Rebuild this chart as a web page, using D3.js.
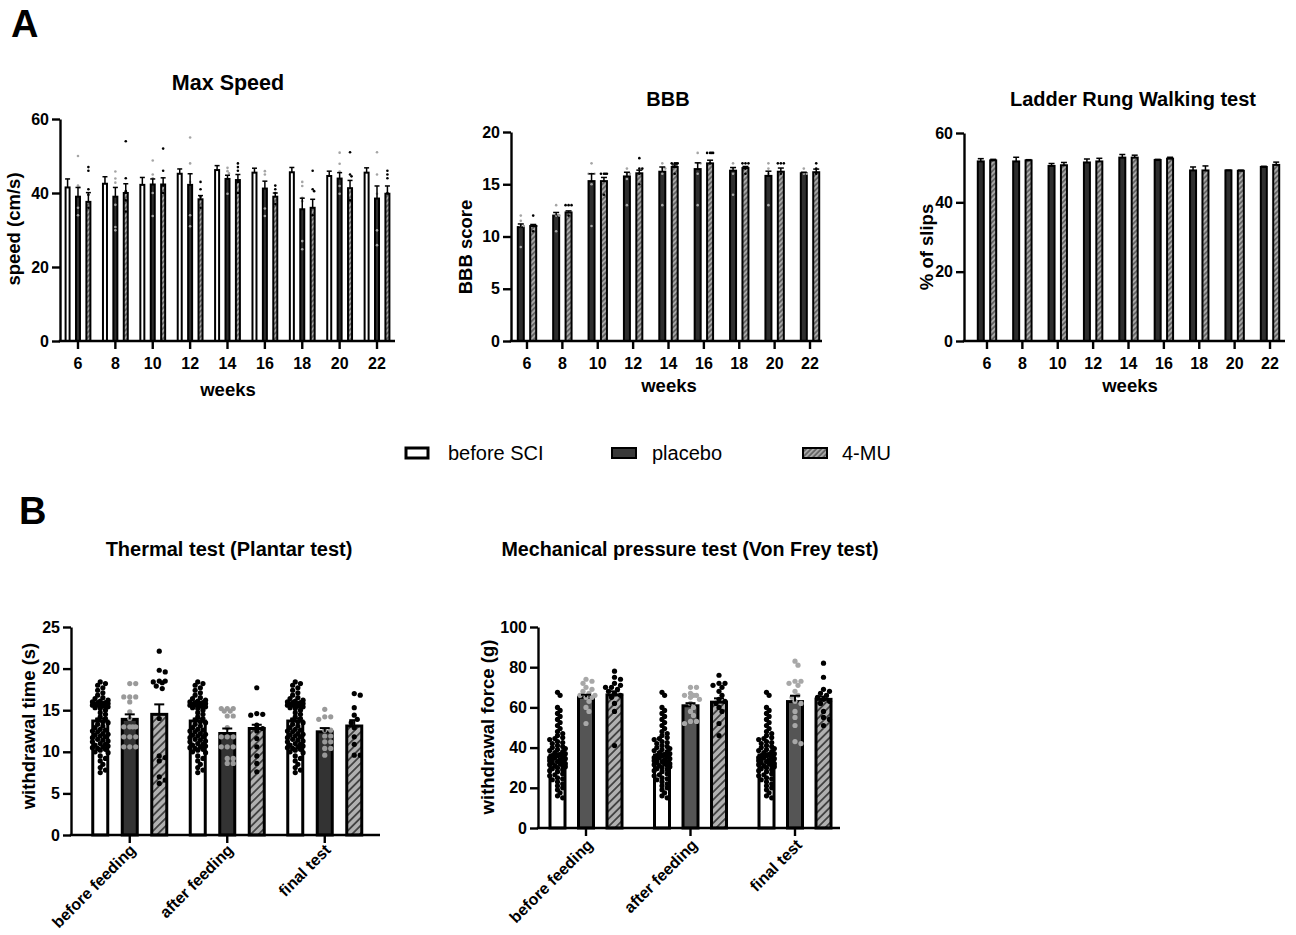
<!DOCTYPE html>
<html><head><meta charset="utf-8">
<script src="https://cdn.jsdelivr.net/npm/d3@7"></script>
<style>
body{margin:0;background:#fff}
text{font-family:"Liberation Sans",Arial,Helvetica,sans-serif}
</style>
</head><body><svg id="c" width="1296" height="935"></svg>
<script>
// ---------------- DATA ----------------
const weeks = ["6","8","10","12","14","16","18","20","22"];
const seriesNames = ["before SCI","placebo","4-MU"];
const testCategories = ["before feeding","after feeding","final test"];

// Max Speed (cm/s)
const speedTicks = [0,20,40,60];
const speedBefore     = [41.5, 42.5, 42.2, 45.2, 46.2, 45.5, 45.6, 44.6, 45.5];
const speedBeforeErr  = [2.3, 1.9, 2.0, 1.3, 1.2, 1.2, 1.3, 1.3, 1.3];
const speedPlacebo    = [39.0, 39.0, 42.3, 42.2, 43.8, 41.2, 35.6, 43.9, 38.5];
const speedPlaceboErr = [2.5, 2.5, 1.5, 3.0, 1.0, 2.0, 3.0, 1.6, 3.4];
const speed4MU        = [37.6, 40.0, 42.3, 38.3, 43.5, 39.0, 36.0, 41.3, 39.8];
const speed4MUErr     = [2.5, 2.5, 1.8, 1.0, 1.5, 1.0, 2.3, 2.1, 2.1];
const speedPlaceboPts = [[50,42,41.5,36,34],[45.8,43.9,42.8,36.8,30.8,29.9],[48.8,45,44,40,33.8],[55,48,43,34,31],
  [46.8,45.9,45.3,39.8],[45.9,45,35.8,33.8],[43,41.9,38.7,37.8,27,24.8],[50.9,47.9,45.8,41.9,39.8],[51,45,39.8,29.9,25.9]];
const speed4MUPts = [[47,46,41,39.5,36],[54,44,40.5,38,35],[52,46,42,40],[43,41,39,36],
  [48,47,46,43,40],[42,41,40,37],[46,41,40.5,34],[51,45,44.5,38],[46,45,44,40]];

// BBB score
const bbbTicks = [0,5,10,15,20];
const bbbPlacebo    = [10.9, 12.0, 15.3, 15.75, 16.2, 16.45, 16.3, 15.8, 16.05];
const bbbPlaceboErr = [0.3, 0.3, 0.7, 0.4, 0.45, 0.6, 0.3, 0.45, 0.1];
const bbb4MU        = [11.0, 12.3, 15.3, 16.05, 16.65, 17.0, 16.55, 16.2, 16.15];
const bbb4MUErr     = [0.15, 0.15, 0.35, 0.3, 0.2, 0.3, 0.15, 0.35, 0.3];
const bbbPlaceboPts = [[12,11.5,11,11,9],[13,12,12,10.5],[17,16,16,16,15,11],[16.5,16,16,15.5,13],[17,16.5,16.5,16,13],
  [18,17,17,16,13],[17,16.5,16,14],[17,16.5,16,13],[16.5,16,16]];
const bbb4MUPts = [[12,11,11,10.5],[13,13,13,12],[16,16,16,16,14],[17.5,16.5,16.5,16,15],[17,17,17,17,16],
  [18,18,18,18,17],[17,17,17,16.5,16],[17,17,17,16],[17,16.5,16]];

// Ladder rung walking (% of slips)
const ladderTicks = [0,20,40,60];
const ladderPlacebo    = [51.8, 51.8, 50.5, 51.5, 52.9, 52.2, 49.2, 49.2, 50.2];
const ladderPlaceboErr = [0.8, 1.2, 0.7, 1.0, 0.9, 0.2, 1.0, 0.1, 0.2];
const ladder4MU        = [52.1, 52.1, 50.7, 51.8, 52.9, 52.6, 49.2, 49.1, 50.8];
const ladder4MUErr     = [0.3, 0.2, 0.8, 0.9, 0.7, 0.4, 1.3, 0.2, 0.8];

// Thermal test (withdrawal time, s)
const thermalTicks = [0,5,10,15,20,25];
const thermalBefore     = [13.7, 13.7, 13.7];
const thermalBeforeErr  = [0.3, 0.3, 0.3];
const thermalPlacebo    = [13.9, 12.2, 12.4];
const thermalPlaceboErr = [0.6, 0.6, 0.45];
const thermal4MU        = [14.5, 12.8, 13.1];
const thermal4MUErr     = [1.2, 0.45, 0.7];
const thermalBeforePts = [18.4,18.2,18.0,17.7,17.4,17.1,16.8,16.5,
  16.4,16.2,16.1,16.0,15.9,15.9,15.8,15.8,15.7,15.7,15.6,15.6,15.5,15.5,15.4,15.3,15.2,
  15.0,14.7,14.5,14.2,14.0,13.8,13.6,13.5,13.3,13.1,
  12.9,12.7,12.6,12.5,12.4,12.2,12.1,12.0,11.9,11.8,11.7,11.5,11.4,11.3,11.2,11.0,10.9,10.8,10.7,10.6,10.5,10.4,10.3,10.2,10.0,9.9,
  9.5,9.2,8.9,8.5,8.1,7.8,7.5];
const thermalPlaceboPts = [
  [18.2,18.2,16.6,16.6,16.6,16.0,14.8,14.0,13.0,13.0,13.0,13.0,11.8,11.8,11.8,10.6,10.6,10.6],
  [15.2,15.2,15.2,14.9,14.9,14.3,14.3,12.9,11.8,11.8,11.8,10.6,10.6,10.6,9.2,9.2,8.6,8.6],
  [15.1,14.2,14.2,13.9,12.6,12.6,11.9,11.9,11.2,11.2,10.4,10.4,9.6]];
const thermal4MUPts = [
  [22.1,19.8,19.6,18.5,18.3,18.5,17.9,18.4,17.6,14.0,9.5,9.3,8.9,7.0,6.6,6.2],
  [17.7,14.6,14.5,14.4,13.2,12.8,12.5,11.6,10.6,9.5,8.6,7.6],
  [17.0,16.8,15.3,14.4,13.9,13.5,12.9,11.8,10.9,9.6,9.6]];

// Von Frey (withdrawal force, g)
const vfTicks = [0,20,40,60,80,100];
const vfBefore     = [36.3, 36.3, 36.3];
const vfBeforeErr  = [0.9, 0.9, 0.9];
const vfPlacebo    = [65.0, 60.8, 62.9];
const vfPlaceboErr = [1.3, 1.3, 2.9];
const vf4MU        = [66.2, 62.6, 64.0];
const vf4MUErr     = [1.8, 1.9, 1.4];
const vfBeforePts = [67.5,66,60,58.5,57,55.5,54,52.5,51,49.5,48,47,46,45,44.5,44,43,42.5,42,41,40.5,40,39.5,39,
  38.5,38,37.5,37,36.5,36,36,35.5,35,35,34.5,34,34,33.5,33,33,32.5,32,32,31.5,31,31,30.5,30,29.5,29,28.5,28,
  27,26.5,26,25,24.5,24,23,22,21,20,19,17.5,16,15];
const vfPlaceboPts = [
  [74,73,72,70,69,68,67,66,66,65,65,63,60,58,52],
  [70,70,67,66,66,66,65,64,62,60,58,56,53,53,52],
  [83,81,73,73,72,71,68,66,65,63,62,58,55,51,43,42]];
const vf4MUPts = [
  [78,75,74,72,71,70,70,69,68,67,66,65,62,58,41],
  [76,72,72,71,70,68,66,64,63,62,60,58,52,46],
  [82,75,69,68,67,66,65,64,63,62,58,55,54,51]];

// ---------------- DRAWING ----------------
const svg = d3.select("#c");
svg.append("rect").attr("width",1296).attr("height",935).attr("fill","#fff");
const defs = svg.append("defs");
function hatch(id, size, bg, fg, sw){
  const p = defs.append("pattern").attr("id",id).attr("patternUnits","userSpaceOnUse")
    .attr("width",size).attr("height",size).attr("patternTransform","rotate(45)");
  p.append("rect").attr("width",size).attr("height",size).attr("fill",bg);
  p.append("line").attr("x1",size/2).attr("y1",0).attr("x2",size/2).attr("y2",size).attr("stroke",fg).attr("stroke-width",sw);
}
hatch("hatchS", 3.6, "#a8a8a8", "#3c3c3c", 1.1);
hatch("hatchL", 5.5, "#b0b0b0", "#333", 1.6);

function swarm(vals, y, r, maxHalf, sep, stepF){
  const placed = [];
  const pts = vals.map(v=>({v, py:y(v)})).sort((a,b)=>a.py-b.py);
  const step = r*stepF;
  const nK = 2*Math.floor(maxHalf/step);
  for(const p of pts){
    let chosen = null, bestOff = 0, bestD = -1;
    for(let k=0;k<=nK;k++){
      const off = (k%2?1:-1)*Math.ceil(k/2)*step;
      let minD = Infinity;
      for(const q of placed){ const d = Math.hypot(q.dx-off, q.py-p.py); if(d<minD) minD=d; }
      if(minD >= sep){ chosen = off; break; }
      if(minD > bestD){ bestD = minD; bestOff = off; }
    }
    p.dx = chosen===null ? bestOff : chosen;
    placed.push(p);
  }
  return pts;
}

function drawPanel(o){
  const g = svg.append("g");
  const x = d3.scaleBand().domain(o.categories).range(o.xRange);
  const xs = d3.scaleBand().domain(o.series.map(s=>s.name)).range([-o.innerHalf, o.innerHalf]);
  const y = d3.scaleLinear().domain(o.yDomain).range(o.yRange);
  const cx = (c,s)=> x(c) + x.bandwidth()/2 + xs(s) + xs.bandwidth()/2;
  // bars
  o.series.forEach(s=>{
    g.append("g").selectAll("rect").data(o.categories).join("rect")
      .attr("x", c=>cx(c,s.name)-o.barW/2)
      .attr("y", (c,i)=>y(s.means[i]))
      .attr("width", o.barW)
      .attr("height", (c,i)=>y(0)-y(s.means[i]))
      .attr("fill", s.fill).attr("stroke","#000").attr("stroke-width",o.barStroke);
  });
  // points
  o.series.forEach(s=>{
    if(!s.points) return;
    o.categories.forEach((c,i)=>{
      const vals = s.sharedPoints ? s.points : s.points[i];
      const sep = (s.sep || 1.85) * o.ptR;
      const sw = swarm(vals, y, o.ptR, s.half || o.swarmHalf, sep, s.stepF || 1.15);
      g.append("g").selectAll("circle").data(sw).join("circle")
        .attr("cx", d=>cx(c,s.name)+d.dx).attr("cy", d=>d.py).attr("r", o.ptR).attr("fill", s.ptColor);
    });
  });
  // error bars (upward SEM)
  o.series.forEach(s=>{
    const eg = g.append("g").attr("stroke", "#000").attr("stroke-width", o.errStroke);
    o.categories.forEach((c,i)=>{
      const xc = cx(c,s.name), y1 = y(s.means[i]), y2 = y(s.means[i]+s.errs[i]);
      eg.append("line").attr("x1",xc).attr("x2",xc).attr("y1",y1).attr("y2",y2);
      eg.append("line").attr("x1",xc-o.capW/2).attr("x2",xc+o.capW/2).attr("y1",y2).attr("y2",y2);
    });
  });
  // y axis
  const gy = g.append("g").attr("transform",`translate(${o.axisX[0]},0)`)
    .call(d3.axisLeft(y).tickValues(o.yTicks).tickSize(8).tickPadding(3).tickSizeOuter(0));
  gy.select(".domain").attr("stroke-width",2.4).attr("stroke","#000");
  gy.selectAll(".tick line").attr("stroke-width",2.4).attr("stroke","#000");
  gy.selectAll(".tick text").attr("font-size",16).attr("font-weight","bold").attr("fill","#000");
  // x axis
  const gx = g.append("g").attr("transform",`translate(0,${y(0)})`)
    .call(d3.axisBottom(x).tickSize(8).tickPadding(9).tickSizeOuter(0));
  gx.select(".domain").remove();
  gx.append("line").attr("x1",o.axisX[0]-1.2).attr("x2",o.axisX[1]).attr("stroke","#000").attr("stroke-width",2.4);
  gx.selectAll(".tick line").attr("stroke-width",2.4).attr("stroke","#000");
  const tt = gx.selectAll(".tick text").attr("font-size",16).attr("font-weight","bold").attr("fill","#000");
  if(o.rotate){
    tt.attr("y",0).attr("dy",0).attr("text-anchor","end")
      .attr("transform",`translate(${o.rotOff[0]},${o.rotOff[1]}) rotate(-45)`);
  }
  // titles
  g.append("text").attr("x",o.title[1]).attr("y",o.title[2]).attr("text-anchor","middle")
    .attr("font-size",o.title[3]).attr("font-weight","bold").text(o.title[0]);
  if(o.xTitle) g.append("text").attr("x",o.xTitle[1]).attr("y",o.xTitle[2]).attr("text-anchor","middle")
    .attr("font-size",18.5).attr("font-weight","bold").text(o.xTitle[0]);
  g.append("text").attr("transform",`translate(${o.yTitle[1]},${o.yTitle[2]}) rotate(-90)`).attr("text-anchor","middle")
    .attr("font-size",18.5).attr("font-weight","bold").text(o.yTitle[0]);
}

// Max Speed
drawPanel({
  categories: weeks, xRange:[59.3,395.7], axisX:[60,395], innerHalf:15.6,
  yDomain:[0,60], yRange:[341,119], yTicks: speedTicks,
  barW:4, barStroke:2, ptR:1.3, swarmHalf:2.5, errStroke:1.5, capW:5,
  series:[
    {name:seriesNames[0], means:speedBefore, errs:speedBeforeErr, fill:"#fff"},
    {name:seriesNames[1], means:speedPlacebo, errs:speedPlaceboErr, fill:"#2e2e2e", points:speedPlaceboPts, ptColor:"#a5a5a5"},
    {name:seriesNames[2], means:speed4MU, errs:speed4MUErr, fill:"url(#hatchS)", points:speed4MUPts, ptColor:"#000"}],
  title:["Max Speed",228,90,21.5], xTitle:["weeks",228,396], yTitle:["speed (cm/s)",20,229]
});
// BBB
drawPanel({
  categories: weeks, xRange:[509.3,827.7], axisX:[511,822], innerHalf:12.4,
  yDomain:[0,20], yRange:[341,132], yTicks: bbbTicks,
  barW:6, barStroke:2, ptR:1.3, swarmHalf:3, errStroke:1.5, capW:6,
  series:[
    {name:seriesNames[1], means:bbbPlacebo, errs:bbbPlaceboErr, fill:"#2e2e2e", points:bbbPlaceboPts, ptColor:"#a5a5a5"},
    {name:seriesNames[2], means:bbb4MU, errs:bbb4MUErr, fill:"url(#hatchS)", points:bbb4MUPts, ptColor:"#000"}],
  title:["BBB",668,106,20], xTitle:["weeks",669,392], yTitle:["BBB score",472,247]
});
// Ladder
drawPanel({
  categories: weeks, xRange:[969.3,1287.7], axisX:[964,1285], innerHalf:12.4,
  yDomain:[0,60], yRange:[341,133], yTicks: ladderTicks,
  barW:6, barStroke:2, ptR:1.3, swarmHalf:3, errStroke:1.5, capW:6,
  series:[
    {name:seriesNames[1], means:ladderPlacebo, errs:ladderPlaceboErr, fill:"#2e2e2e"},
    {name:seriesNames[2], means:ladder4MU, errs:ladder4MUErr, fill:"url(#hatchS)"}],
  title:["Ladder Rung Walking test",1133,106,20], xTitle:["weeks",1130,392], yTitle:["% of slips",933,247]
});
// Thermal
drawPanel({
  categories: testCategories, xRange:[81,373.5], axisX:[71,380], innerHalf:44.25,
  yDomain:[0,25], yRange:[835,627], yTicks: thermalTicks,
  barW:15, barStroke:3, ptR:2.6, swarmHalf:10, errStroke:2, capW:10,
  series:[
    {name:seriesNames[0], means:thermalBefore, errs:thermalBeforeErr, fill:"#fff", points:thermalBeforePts, sharedPoints:true, ptColor:"#000", sep:1.45, stepF:1.0, half:10},
    {name:seriesNames[1], means:thermalPlacebo, errs:thermalPlaceboErr, fill:"#333", points:thermalPlaceboPts, ptColor:"#9a9a9a"},
    {name:seriesNames[2], means:thermal4MU, errs:thermal4MUErr, fill:"url(#hatchL)", points:thermal4MUPts, ptColor:"#000"}],
  title:["Thermal test (Plantar test)",229,556,20], yTitle:["withdrawal time (s)",35,726],
  rotate:true, rotOff:[7,16]
});
// Von Frey
drawPanel({
  categories: testCategories, xRange:[533.75,847.25], axisX:[538,840], innerHalf:42.75,
  yDomain:[0,100], yRange:[828,627], yTicks: vfTicks,
  barW:15, barStroke:3, ptR:2.6, swarmHalf:10, errStroke:2, capW:10,
  series:[
    {name:seriesNames[0], means:vfBefore, errs:vfBeforeErr, fill:"#fff", points:vfBeforePts, sharedPoints:true, ptColor:"#000", sep:1.45, stepF:1.0, half:10},
    {name:seriesNames[1], means:vfPlacebo, errs:vfPlaceboErr, fill:"#555", points:vfPlaceboPts, ptColor:"#a8a8a8"},
    {name:seriesNames[2], means:vf4MU, errs:vf4MUErr, fill:"url(#hatchL)", points:vf4MUPts, ptColor:"#000"}],
  title:["Mechanical pressure test (Von Frey test)",690,556,19.7], yTitle:["withdrawal force (g)",494,727],
  rotate:true, rotOff:[8,18]
});

// Panel letters
svg.append("text").attr("x",11).attr("y",37).attr("font-size",38).attr("font-weight","bold").text("A");
svg.append("text").attr("x",19).attr("y",524).attr("font-size",38).attr("font-weight","bold").text("B");

// Legend
const legendFills = ["#fff","#3a3a3a","url(#hatchS)"];
const legendX = [406, 612, 803];
const legendTextX = [448, 652, 842];
const lg = svg.append("g");
seriesNames.forEach((n,i)=>{
  lg.append("rect").attr("x",legendX[i]).attr("y",448).attr("width",i===0?22:24).attr("height",10)
    .attr("fill",legendFills[i]).attr("stroke","#000").attr("stroke-width",i===0?3:2);
  lg.append("text").attr("x",legendTextX[i]).attr("y",460).attr("font-size",20).text(n);
});
</script></body></html>
